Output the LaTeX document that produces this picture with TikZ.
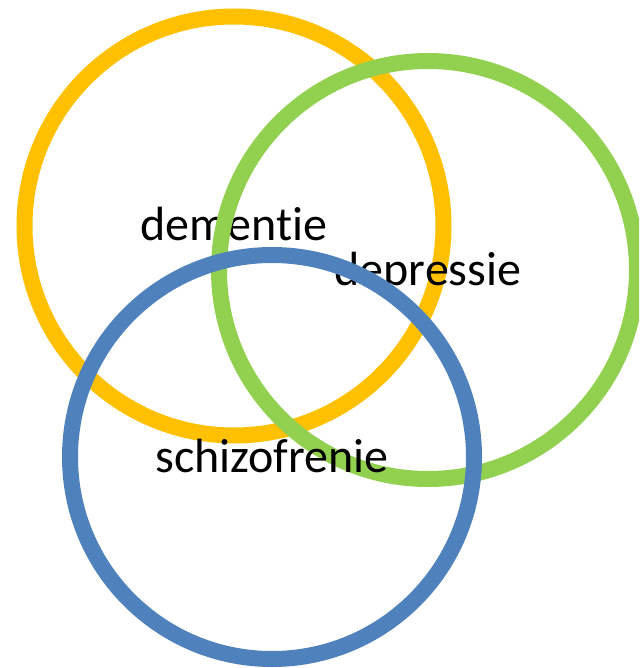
\documentclass[tikz,border=0pt]{standalone}
\usepackage{fontspec}
\setmainfont{Carlito}[Ligatures=NoCommon]
\usetikzlibrary{positioning}
\definecolor{ringyellow}{HTML}{FFC000}
\definecolor{ringgreen}{HTML}{92D050}
\definecolor{ringblue}{HTML}{4F81BD}
\begin{document}
\begin{tikzpicture}[
      x=1pt, y=-1pt,
      ring/.style={draw, circle, line width=16pt, minimum size=#1, inner sep=0pt},
      lbl/.style={font=\fontsize{48}{54}\selectfont, text=black, anchor=base, inner sep=0pt}]
    \clip (0,0) rectangle (639,668);
    \node[ring=419pt, draw=ringyellow] (dem) at (234,226) {};
    \node[lbl] (demtxt) at ([yshift=-14.5pt]dem.center) {dementie};
    \node[ring=418pt, draw=ringgreen] (dep) at (428,270) {};
    \node[lbl] (deptxt) at ([yshift=-15pt]dep.center) {depressie};
    \node[ring=404pt, draw=ringblue] (schiz) at (272,457) {};
    \node[lbl] (schiztxt) at ([yshift=-15pt]schiz.center) {schizofrenie};
  \end{tikzpicture}
\end{document}
